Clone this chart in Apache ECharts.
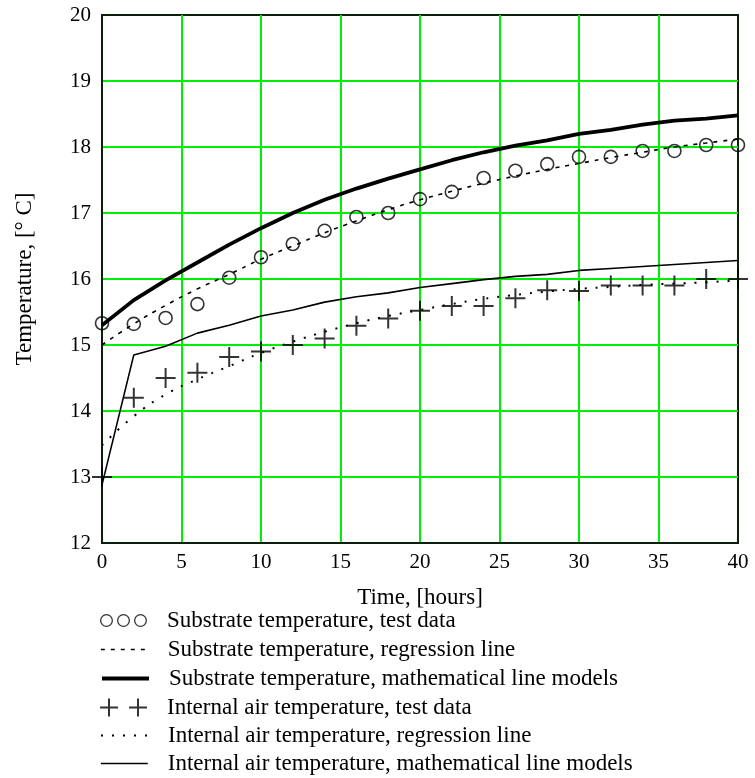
<!DOCTYPE html>
<html>
<head>
<meta charset="utf-8">
<script src="https://cdn.jsdelivr.net/npm/echarts@6/dist/echarts.min.js"></script>
<style>
html,body{margin:0;padding:0;background:#fff;}
#chart{width:755px;height:778px;}
</style>
</head>
<body>
<div id="chart"></div>
<script>
// ---- data ----
var hours = [0,2,4,6,8,10,12,14,16,18,20,22,24,26,28,30,32,34,36,38,40];
var substrateTest = [15.33,15.32,15.41,15.62,16.02,16.33,16.53,16.73,16.94,17.00,17.21,17.32,17.53,17.64,17.74,17.85,17.85,17.94,17.94,18.03,18.03];
var substrateRegression = [15.00,15.32,15.60,15.85,16.07,16.30,16.50,16.70,16.88,17.05,17.20,17.33,17.45,17.56,17.66,17.75,17.84,17.92,18.00,18.06,18.12];
var substrateModel = [15.30,15.68,15.98,16.25,16.52,16.77,17.00,17.20,17.37,17.52,17.66,17.80,17.92,18.02,18.10,18.20,18.26,18.34,18.40,18.43,18.48];
var airTest = [13.00,14.20,14.50,14.58,14.82,14.90,15.00,15.10,15.29,15.40,15.52,15.59,15.59,15.71,15.83,15.82,15.90,15.90,15.90,16.00,16.00];
var airRegression = [13.48,13.92,14.25,14.48,14.68,14.88,15.05,15.20,15.33,15.44,15.53,15.62,15.70,15.76,15.81,15.85,15.88,15.91,15.93,15.95,15.98];
var airModel = [12.88,14.85,14.98,15.18,15.30,15.44,15.53,15.65,15.73,15.79,15.87,15.93,15.99,16.04,16.07,16.13,16.16,16.19,16.22,16.25,16.28];
var xTicks = [0,5,10,15,20,25,30,35,40];
var yTicks = [12,13,14,15,16,17,18,19,20];

var names = [
  'Substrate temperature, test data',
  'Substrate temperature, regression line',
  'Substrate temperature, mathematical line models',
  'Internal air temperature, test data',
  'Internal air temperature, regression line',
  'Internal air temperature, mathematical line models'
];

function pairs(ys){ return hours.map(function(h,i){ return [h, ys[i]]; }); }

var FONT = '"Liberation Serif", "DejaVu Serif", serif';
var ringPath = (function(){
  var p = '';
  [6.5, 23.5, 40.5].forEach(function(c){
    p += 'M' + (c-6.5) + ',6.5 A6.5,6.5 0 1,0 ' + (c+6.5) + ',6.5 A6.5,6.5 0 1,0 ' + (c-6.5) + ',6.5 Z ';
    p += 'M' + (c-5.2) + ',6.5 A5.2,5.2 0 1,1 ' + (c+5.2) + ',6.5 A5.2,5.2 0 1,1 ' + (c-5.2) + ',6.5 Z ';
  });
  return 'path://' + p;
})();
var plusPair = 'path://M8,0h2v8h8v2h-8v8h-2v-8h-8v-2h8z M37,0h2v8h8v2h-8v8h-2v-8h-8v-2h8z';
var plusSym = 'path://M9,0h2v9h9v2h-9v9h-2v-9h-9v-2h9z';

var lineStyles = [
  null,
  { color: '#000', width: 1.6, type: [4, 6] },
  { color: '#000', width: 4 },
  null,
  { color: '#000', width: 2, type: [2, 9] },
  { color: '#000', width: 1.6 }
];

var rowCenters = [621, 650, 679, 708, 736, 764];
var iconHeights = [13, 8, 8, 18, 8, 8];
var legends = names.map(function(n, i){
  var item = { name: n };
  if (i === 0) { item.icon = ringPath; item.itemStyle = { color: '#000', borderWidth: 0 }; }
  else if (i === 3) { item.icon = plusPair; item.itemStyle = { color: '#000', borderWidth: 0 }; }
  else {
    item.itemStyle = { color: 'rgba(0,0,0,0)', borderColor: 'rgba(0,0,0,0)', borderWidth: 0 };
    item.lineStyle = lineStyles[i];
  }
  return {
    data: [item],
    left: 100,
    top: rowCenters[i] - 12,
    padding: 0,
    itemWidth: 47,
    itemHeight: iconHeights[i],
    selectedMode: false,
    textStyle: { fontFamily: FONT, fontSize: 23, color: '#000', padding: [0, 0, 0, 15] }
  };
});

var chart = echarts.init(document.getElementById('chart'), null, { renderer: 'canvas' });
chart.setOption({
  backgroundColor: '#fff',
  animation: false,
  grid: { left: 102, right: 17, top: 15, bottom: 235, show: true, borderColor: '#0b1f0b', borderWidth: 2, backgroundColor: 'transparent' },
  xAxis: {
    type: 'value', min: xTicks[0], max: xTicks[xTicks.length-1], interval: xTicks[1]-xTicks[0],
    name: 'Time, [hours]', nameLocation: 'middle', nameGap: 43,
    nameTextStyle: { fontFamily: FONT, fontSize: 23, color: '#000' },
    axisLine: { show: true, lineStyle: { color: '#0b1f0b', width: 2 } },
    axisTick: { show: false },
    axisLabel: { fontFamily: FONT, fontSize: 21, color: '#000', margin: 9 },
    splitLine: { show: true, showMinLine: false, showMaxLine: false, lineStyle: { color: '#00ee00', width: 2 } }
  },
  yAxis: {
    type: 'value', min: yTicks[0], max: yTicks[yTicks.length-1], interval: yTicks[1]-yTicks[0],
    name: 'Temperature, [° C]', nameLocation: 'middle', nameGap: 66, nameRotate: 90,
    nameTextStyle: { fontFamily: FONT, fontSize: 23, color: '#000' },
    axisLine: { show: true, lineStyle: { color: '#0b1f0b', width: 2 } },
    axisTick: { show: false },
    axisLabel: { fontFamily: FONT, fontSize: 21, color: '#000', margin: 11 },
    splitLine: { show: true, showMinLine: false, showMaxLine: false, lineStyle: { color: '#00ee00', width: 2 } }
  },
  legend: legends,
  series: [
    { name: names[0], type: 'scatter', data: pairs(substrateTest), symbol: 'circle', symbolSize: 13,
      itemStyle: { color: 'rgba(0,0,0,0)', borderColor: '#000', borderWidth: 1.6 }, z: 5 },
    { name: names[1], type: 'line', data: pairs(substrateRegression), symbol: 'none', smooth: true,
      itemStyle: { color: '#000' }, lineStyle: lineStyles[1], z: 3 },
    { name: names[2], type: 'line', data: pairs(substrateModel), symbol: 'none',
      itemStyle: { color: '#000' }, lineStyle: { color: '#000', width: 3.8 }, z: 3 },
    { name: names[3], type: 'scatter', data: pairs(airTest), symbol: plusSym, symbolSize: 20,
      itemStyle: { color: '#000' }, z: 5 },
    { name: names[4], type: 'line', data: pairs(airRegression), symbol: 'none', smooth: true,
      itemStyle: { color: '#000' }, lineStyle: lineStyles[4], z: 3 },
    { name: names[5], type: 'line', data: pairs(airModel), symbol: 'none',
      itemStyle: { color: '#000' }, lineStyle: lineStyles[5], z: 3 }
  ]
});
</script>
</body>
</html>
